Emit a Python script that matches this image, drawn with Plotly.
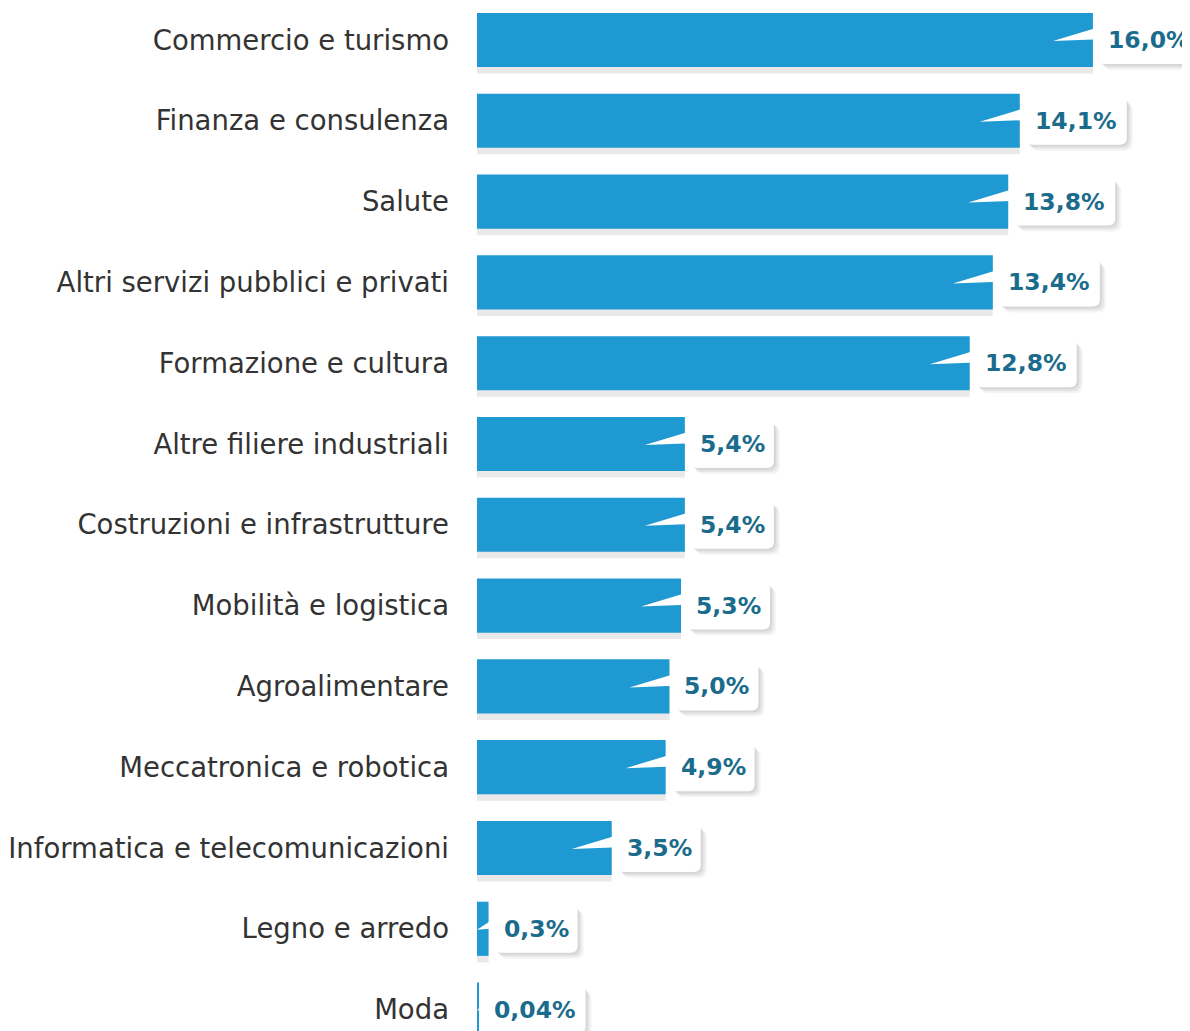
import plotly.graph_objects as go

categories = [
    "Commercio e turismo",
    "Finanza e consulenza",
    "Salute",
    "Altri servizi pubblici e privati",
    "Formazione e cultura",
    "Altre filiere industriali",
    "Costruzioni e infrastrutture",
    "Mobilità e logistica",
    "Agroalimentare",
    "Meccatronica e robotica",
    "Informatica e telecomunicazioni",
    "Legno e arredo",
    "Moda",
]
values = [16.0, 14.1, 13.8, 13.4, 12.8, 5.4, 5.4, 5.3, 5.0, 4.9, 3.5, 0.3, 0.04]
value_labels = ["16,0%", "14,1%", "13,8%", "13,4%", "12,8%", "5,4%", "5,4%",
                "5,3%", "5,0%", "4,9%", "3,5%", "0,3%", "0,04%"]

BAR_COLOR = "#1f99d1"
VALUE_COLOR = "#1b6c8c"
LABEL_FONT = "DejaVu Sans, sans-serif"
X_MAX = 18.73
PLOT_LEFT = 469
PX_PER_UNIT = (1190 - PLOT_LEFT) / X_MAX  # used to size the callout pointers
BAR_W = 0.67


def rounded_rect(x0, x1, y0, y1, r=6):
    return (f"M {x0 + r},{y1} L {x1 - r},{y1} Q {x1},{y1} {x1},{y1 - r} "
            f"L {x1},{y0 + r} Q {x1},{y0} {x1 - r},{y0} L {x0 + r},{y0} "
            f"Q {x0},{y0} {x0},{y0 + r} L {x0},{y1 - r} Q {x0},{y1} {x0 + r},{y1} Z")


fig = go.Figure()
# faint drop shadow under each bar
fig.add_trace(
    go.Bar(
        x=values, y=categories, orientation="h",
        width=BAR_W, offset=-BAR_W / 2 + 0.08,
        marker={"color": "rgba(70,70,80,0.12)", "line": {"width": 0}},
        hoverinfo="skip",
    )
)
fig.add_trace(
    go.Bar(
        x=values, y=categories, orientation="h",
        width=BAR_W, offset=-BAR_W / 2,
        marker={"color": BAR_COLOR, "line": {"width": 0}},
        hoverinfo="skip",
    )
)

for cat, v, label in zip(categories, values, value_labels):
    box_w = 18 * len(label) + 12
    left, right = 5, 5 + box_w
    anchor = dict(xref="x", yref="y", xsizemode="pixel", ysizemode="pixel",
                  xanchor=v, yanchor=cat, type="path", line={"width": 0})
    # soft shadow, a few stacked translucent layers
    for d, a in [(6, 0.05), (4, 0.07), (2, 0.08)]:
        fig.add_shape(**anchor, path=rounded_rect(left + d, right + d, -24 - d, 24 - d, 8),
                      fillcolor=f"rgba(40,40,50,{a})")
    fig.add_shape(**anchor, path=rounded_rect(left, right, -24, 24, 7), fillcolor="white")
    # pointer wedge from the box into the bar
    tip = -min(40, v * PX_PER_UNIT)
    fig.add_shape(**anchor, path=f"M {tip},-1 L {left + 8},15 L {left + 8},1 Z",
                  fillcolor="white")
    fig.add_annotation(
        x=v, y=cat, xref="x", yref="y",
        text=f"<b>{label}</b>", showarrow=False,
        xanchor="left", yanchor="middle", xshift=left + 9,
        borderpad=0,
        font={"family": LABEL_FONT, "size": 23.5, "color": VALUE_COLOR},
    )

fig.update_layout(
    width=1190,
    height=1031,
    margin={"l": PLOT_LEFT, "r": 0, "t": 0, "b": 0},
    paper_bgcolor="white",
    plot_bgcolor="white",
    showlegend=False,
    barmode="overlay",
    font={"family": LABEL_FONT, "color": "#333333"},
)
fig.update_xaxes(range=[0, X_MAX], visible=False)
fig.update_yaxes(
    range=[12.364, -0.396],
    showgrid=False,
    showline=False,
    zeroline=False,
    ticks="",
    ticklabelstandoff=27,
    tickfont={"family": LABEL_FONT, "size": 27.5, "color": "#333333"},
)

fig.write_html("out.html")
